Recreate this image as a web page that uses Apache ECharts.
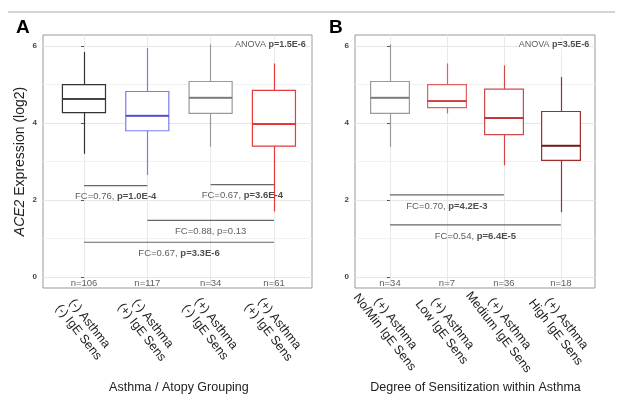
<!DOCTYPE html>
<html><head><meta charset="utf-8">
<script src="https://cdn.jsdelivr.net/npm/echarts@6/dist/echarts.min.js"></script>
<style>html,body{margin:0;background:#fff}#c{width:623px;height:413px}</style>
</head><body><div id="c"></div>
<script>
const catsA = ['(-) Asthma\n(-) IgE Sens','(-) Asthma\n(+) IgE Sens','(+) Asthma\n(-) IgE Sens','(+) Asthma\n(+) IgE Sens'];
const catsB = ['(+) Asthma\nNo/Min IgE Sens','(+) Asthma\nLow IgE Sens','(+) Asthma\nMedium IgE Sens','(+) Asthma\nHigh IgE Sens'];
// [min, q1, median, q3, max]
const boxA = [[3.2,4.27,4.63,5.0,5.85],[2.65,3.8,4.2,4.82,5.95],[3.38,4.25,4.67,5.08,6.05],[1.7,3.4,3.97,4.85,5.55]];
const boxB = [[3.38,4.25,4.67,5.08,6.05],[4.25,4.4,4.57,5.0,5.55],[2.9,3.7,4.13,4.88,5.5],[1.68,3.03,3.42,4.3,5.2]];
const colA = ['#333333','#7b7bf0','#9a9a9a','#e83a3a'];
const medA = ['#333333','#4040c8','#707070','#e02020'];
const colB = ['#9a9a9a','#e06060','#d04848','#9a3030'];
const medB = ['#707070','#d02828','#b02020','#6a1010'];
const nA = ['n=106','n=117','n=34','n=61'];
const nB = ['n=34','n=7','n=36','n=18'];
// brackets: [fromCat, toCat, y, fc, p, bold]
const brA = [[0,1,2.37,'FC=0.76, ','p=1.0E-4',true],[2,3,2.4,'FC=0.67, ','p=3.6E-4',true],[1,3,1.47,'FC=0.88, ','p=0.13',false],[0,3,0.9,'FC=0.67, ','p=3.3E-6',true]];
const brB = [[0,2,2.13,'FC=0.70, ','p=4.2E-3',true],[0,3,1.35,'FC=0.54, ','p=6.4E-5',true]];
const anovaA = 'p=1.5E-6', anovaB = 'p=3.5E-6';
const yTicks = [0,2,4,6];
const gridY = [0,1,2,3,4,5,6];

const chart = echarts.init(document.getElementById('c'));
const YMIN=-0.29, YMAX=6.29, TOP=35, H=253;
function panel(i, frameL, frameW, boxL, boxW, xmin, cats, box, col, med, ns, br, anova, axisName, yname){
  const bg = i*2, bx = i*2+1;
  const grids=[{left:frameL,top:TOP,width:frameW,height:H,show:true,borderColor:'#999',borderWidth:1,backgroundColor:'transparent'},
               {left:boxL,top:TOP,width:boxW,height:H}];
  const xAxes=[{type:'value',gridIndex:bg,min:xmin,max:3.6,show:false},
    {type:'category',gridIndex:bx,data:cats,axisLine:{show:false},axisTick:{show:false},
     axisLabel:{rotate:-52,interval:0,fontSize:12.5,color:'#222',fontFamily:'Liberation Sans',lineHeight:14,margin:40,align:'center',verticalAlign:'middle'},
     name:axisName,nameLocation:'middle',nameGap:93,nameMoveOverlap:false,nameTextStyle:{fontSize:12.5,color:'#222',fontFamily:'Liberation Sans'}}];
  const yAxes=[{type:'value',gridIndex:bg,min:YMIN,max:YMAX,splitLine:{show:false},axisLine:{show:false},
     axisTick:{show:true,customValues:yTicks,length:3,lineStyle:{color:'#555'}},
     axisLabel:{customValues:yTicks,fontSize:8,color:'#444',fontWeight:'bold',margin:6},
     name:yname,nameLocation:'middle',nameGap:16,nameMoveOverlap:false,
     nameTextStyle:{fontSize:14,color:'#222',rich:{i:{fontStyle:'italic',fontSize:14,color:'#222'},n:{fontSize:14,color:'#222'}}}},
    {type:'value',gridIndex:bx,min:YMIN,max:YMAX,show:false,splitLine:{show:false}}];
  const series=[];
  const ml=[];
  gridY.forEach(v=>ml.push({yAxis:v,lineStyle:{color:v%2?'#f2f2f2':'#e6e6e6',width:1,type:'solid'}}));
  [0,1,2,3].forEach(v=>ml.push({xAxis:v,lineStyle:{color:'#e9e9e9',width:1,type:'solid'}}));
  series.push({type:'line',xAxisIndex:bg,yAxisIndex:bg,data:[],silent:true,z:0,zlevel:0,
    markLine:{silent:true,symbol:'none',label:{show:false},z:0,data:ml}});
  // whiskers (no end caps)
  series.push({type:'line',xAxisIndex:bg,yAxisIndex:bg,data:[],silent:true,z:1,
    markLine:{silent:true,symbol:'none',label:{show:false},z:1,data:box.flatMap((d,k)=>[
      [{coord:[k,d[0]],lineStyle:{color:col[k],width:1.2,type:'solid'}},{coord:[k,d[1]]}],
      [{coord:[k,d[3]],lineStyle:{color:col[k],width:1.2,type:'solid'}},{coord:[k,d[4]]}]])}});
  series.push({type:'boxplot',xAxisIndex:bx,yAxisIndex:bx,boxWidth:['68%','68%'],z:3,
    data:box.map((d,k)=>({value:[d[1],d[1],d[2],d[3],d[3]],itemStyle:{color:'#fff',borderColor:col[k],borderWidth:1.2}}))});
  series.push({type:'line',xAxisIndex:bg,yAxisIndex:bg,data:[],silent:true,z:4,
    markLine:{silent:true,symbol:'none',label:{show:false},z:5,data:box.map((d,k)=>[{coord:[k-0.34,d[2]],lineStyle:{color:med[k],width:1.6,type:'solid'}},{coord:[k+0.34,d[2]]}])}});
  br.forEach(b=>{
    series.push({type:'line',xAxisIndex:bg,yAxisIndex:bg,data:[[b[0],b[2]],[b[1],b[2]]],symbol:'none',lineStyle:{color:'#666',width:1.2},silent:true,z:2});
    series.push({type:'scatter',xAxisIndex:bg,yAxisIndex:bg,symbolSize:0,silent:true,z:6,data:[[(b[0]+b[1])/2,b[2]]],
      label:{show:true,position:'bottom',distance:6,formatter:'{a|'+b[3]+'}{'+(b[5]?'b':'a')+'|'+b[4]+'}',
        rich:{a:{fontSize:9.5,color:'#333'},b:{fontSize:9.5,color:'#222',fontWeight:'bold'}}}});
  });
  series.push({type:'scatter',xAxisIndex:bg,yAxisIndex:bg,symbolSize:0,silent:true,z:6,data:ns.map((n,k)=>[k,-0.16,n]),
    label:{show:true,position:'inside',formatter:p=>p.value[2],fontSize:9.5,color:'#333'}});
  series.push({type:'scatter',xAxisIndex:bg,yAxisIndex:bg,symbolSize:0,silent:true,z:6,data:[[3.5,6.05]],
    label:{show:true,position:'left',distance:0,formatter:'{a|ANOVA }{b|'+anova+'}',rich:{a:{fontSize:9,color:'#333',backgroundColor:'#fff'},b:{fontSize:9,color:'#222',fontWeight:'bold',backgroundColor:'#fff'}}}});
  return {grids,xAxes,yAxes,series};
}
const pA = panel(0,43,269,52.3,253.3,-0.648,catsA,boxA,colA,medA,nA,brA,anovaA,'Asthma / Atopy Grouping','{i|ACE2}{n| Expression (log2)}');
const pB = panel(1,355,240,361.5,228,-0.614,catsB,boxB,colB,medB,nB,brB,anovaB,'Degree of Sensitization within Asthma','');
chart.setOption({
  animation:false,
  grid:[...pA.grids,...pB.grids],
  xAxis:[...pA.xAxes,...pB.xAxes],
  yAxis:[...pA.yAxes,...pB.yAxes],
  series:[...pA.series,...pB.series],
  graphic:[
    {type:'line',shape:{x1:8,y1:12,x2:615,y2:12},style:{stroke:'#aaa',lineWidth:1}},
    {type:'text',left:16,top:18,style:{text:'A',fontSize:19,fontWeight:'bold',fill:'#000',fontFamily:'Liberation Sans'}},
    {type:'text',left:329,top:18,style:{text:'B',fontSize:19,fontWeight:'bold',fill:'#000',fontFamily:'Liberation Sans'}}
  ]
});
</script></body></html>
